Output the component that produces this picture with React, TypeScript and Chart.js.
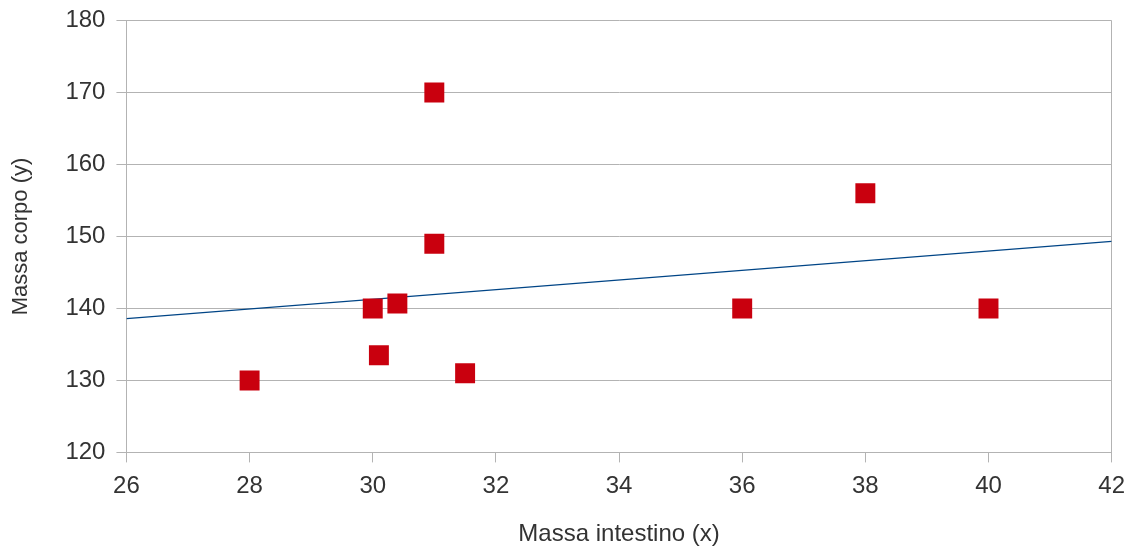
import React, { useEffect, useRef } from "react";
import { Chart, registerables } from "chart.js";

Chart.register(...registerables);

const xValues = [28, 30, 30.1, 30.4, 31, 31, 31.5, 36, 38, 40];
const yValues = [130, 140, 133.5, 140.7, 170, 149, 131, 140, 156, 140];
const xRange = [26, 42];
const yRange = [120, 180];
const xTitle = "Massa intestino (x)";
const yTitle = "Massa corpo (y)";

function regression(xs: number[], ys: number[]) {
  const n = xs.length;
  const mx = xs.reduce((a, b) => a + b, 0) / n;
  const my = ys.reduce((a, b) => a + b, 0) / n;
  let sxy = 0, sxx = 0;
  for (let i = 0; i < n; i++) {
    sxy += (xs[i] - mx) * (ys[i] - my);
    sxx += (xs[i] - mx) * (xs[i] - mx);
  }
  const b = sxy / sxx;
  return { a: my - b * mx, b };
}

export default function App() {
  const ref = useRef<HTMLCanvasElement>(null);
  useEffect(() => {
    document.body.style.margin = "0";
    const { a, b } = regression(xValues, yValues);
    const trend = xRange.map((x) => ({ x, y: a + b * x }));
    const font = "'Liberation Sans', Arial, sans-serif";
    const grid = "#b3b3b3";
    const chart = new Chart(ref.current!, {
      type: "scatter",
      data: {
        datasets: [
          {
            type: "scatter",
            data: xValues.map((x, i) => ({ x, y: yValues[i] })),
            pointStyle: "rect",
            pointRadius: 14.1,
            pointHoverRadius: 14.1,
            backgroundColor: "#c9000e",
            borderColor: "#c9000e",
            borderWidth: 0,
            order: 0,
          },
          {
            type: "line",
            data: trend,
            borderColor: "#004586",
            borderWidth: 1.3,
            pointRadius: 0,
            fill: false,
            order: 1,
          } as any,
        ],
      },
      options: {
        animation: false,
        responsive: false,
        maintainAspectRatio: false,
        layout: { padding: { top: 0, right: 23, left: 8, bottom: 3 } },
        plugins: { legend: { display: false }, tooltip: { enabled: false } },
        scales: {
          x: {
            type: "linear",
            min: xRange[0],
            max: xRange[1],
            ticks: { stepSize: 2, color: "#333333", font: { family: font, size: 24 }, padding: 10 },
            grid: {
              color: (ctx: any) =>
                ctx.tick && (ctx.tick.value === xRange[0] || ctx.tick.value === xRange[1]) ? grid : "transparent",
              tickColor: grid,
              tickLength: 10,
              lineWidth: 1,
            },
            border: { color: grid },
            title: { display: true, text: xTitle, color: "#333333", font: { family: font, size: 24 }, padding: { top: 9, bottom: 0 } },
          },
          y: {
            min: yRange[0],
            max: yRange[1],
            ticks: { stepSize: 10, color: "#333333", font: { family: font, size: 24, lineHeight: 0.8 }, padding: 11 },
            grid: { color: grid, tickColor: grid, tickLength: 10, lineWidth: 1 },
            border: { color: grid },
            title: { display: true, text: yTitle, color: "#333333", font: { family: font, size: 22 }, padding: { top: 0, bottom: 20 } },
          },
        },
      },
    });
    return () => chart.destroy();
  }, []);
  return (
    <div style={{ width: 1135, height: 552, background: "#fff" }}>
      <canvas ref={ref} width={1135} height={552} style={{ display: "block" }} />
    </div>
  );
}
